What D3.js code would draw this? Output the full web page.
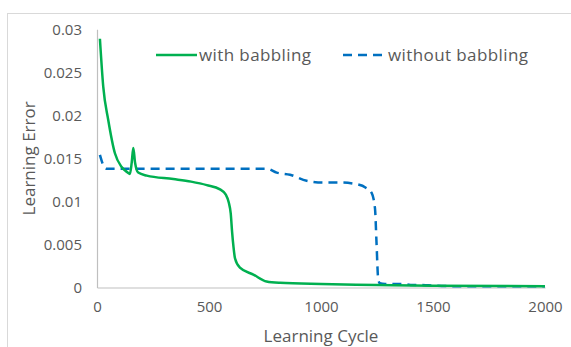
<!DOCTYPE html>
<html lang="en">
<head>
  <meta charset="UTF-8">
  <title>Learning Error vs Learning Cycle</title>
  <script src="https://d3js.org/d3.v7.min.js"></script>
  <style>
    body { margin: 0; background: #fff; }
    svg { display: block; }
    text { font-family: "Open Sans", "Liberation Sans", sans-serif; fill: #595959; }
  </style>
</head>
<body>
  <svg></svg>

  <script>
    // with babbling (green)
    const withCycle = [13, 28, 50, 80, 110, 135, 147, 155, 162, 170, 184, 222, 341, 420, 490, 549, 575, 588, 597, 603, 609, 616, 638, 698, 757, 817, 1000, 1250, 1500, 2000];
    const withError = [0.0289, 0.0233, 0.0195, 0.0156, 0.0140, 0.0134, 0.0132, 0.0145, 0.0162, 0.0145, 0.01335, 0.0130, 0.0126, 0.0123, 0.0119, 0.0114, 0.0108, 0.0099, 0.0086, 0.0065, 0.0048, 0.0034, 0.0023, 0.0015, 0.0007, 0.00054, 0.0004, 0.0003, 0.0002, 0.00015];

    // without babbling (blue dashed)
    const withoutCycle = [13, 25, 40, 200, 500, 760, 802, 862, 936, 1009, 1085, 1159, 1200, 1226, 1241, 1248, 1255, 1262, 1286, 1367, 1400, 1442, 1480, 1516, 1600, 2000];
    const withoutError = [0.0154, 0.0144, 0.0138, 0.0138, 0.0138, 0.0138, 0.01335, 0.0131, 0.0124, 0.0122, 0.0122, 0.0120, 0.0116, 0.0110, 0.0092, 0.0051, 0.0011, 0.0005, 0.0004, 0.0004, 0.0003, 0.0003, 0.00025, 0.0002, 0.00015, 0.00015];

    const xTicks = [0, 500, 1000, 1500, 2000];
    const yTicks = [0, 0.005, 0.01, 0.015, 0.02, 0.025, 0.03];

    const width = 571, height = 347;
    const margin = { top: 29.3, right: 26, bottom: 59.5, left: 97 };

    const svg = d3.select('svg')
      .attr('width', width)
      .attr('height', height);

    // outer chart frame
    svg.append('rect')
      .attr('x', 7.5).attr('y', 13.5)
      .attr('width', 600).attr('height', 400)
      .attr('fill', 'none')
      .attr('stroke', '#d9d9d9');

    const x = d3.scaleLinear()
      .domain([0, 2000])
      .range([margin.left, width - margin.right]);

    const y = d3.scaleLinear()
      .domain([0, 0.03])
      .range([height - margin.bottom, margin.top]);

    // axes
    const xAxis = svg.append('g')
      .attr('transform', `translate(0,${y(0)})`)
      .call(d3.axisBottom(x).tickValues(xTicks).tickSize(0).tickPadding(14).tickFormat(d3.format('d')));
    xAxis.select('.domain').attr('stroke', '#bfbfbf').attr('stroke-width', 1.2);
    xAxis.selectAll('text').style('font-size', '15px').attr('fill', '#595959');

    const yAxis = svg.append('g')
      .attr('transform', `translate(${x(0)},0)`)
      .call(d3.axisLeft(y).tickValues(yTicks).tickSize(0).tickPadding(15).tickFormat(d => d === 0 ? '0' : String(+d.toFixed(3))));
    yAxis.select('.domain').attr('stroke', '#bfbfbf').attr('stroke-width', 1.2);
    yAxis.selectAll('text').style('font-size', '15px').attr('fill', '#595959');

    // axis titles
    svg.append('text')
      .attr('x', (x(0) + x(2000)) / 2)
      .attr('y', 342)
      .attr('text-anchor', 'middle')
      .style('font-size', '17px')
      .text('Learning Cycle');

    svg.append('text')
      .attr('transform', `translate(35,${(y(0) + y(0.03)) / 2}) rotate(-90)`)
      .attr('text-anchor', 'middle')
      .style('font-size', '17px')
      .text('Learning Error');

    const line = d3.line()
      .x(d => x(d[0]))
      .y(d => y(d[1]))
      .curve(d3.curveMonotoneX);

    svg.append('path')
      .datum(d3.zip(withoutCycle, withoutError))
      .attr('d', line)
      .attr('fill', 'none')
      .attr('stroke', '#0070c0')
      .attr('stroke-width', 2.5)
      .attr('stroke-dasharray', '9,6');

    svg.append('path')
      .datum(d3.zip(withCycle, withError))
      .attr('d', line)
      .attr('fill', 'none')
      .attr('stroke', '#00b050')
      .attr('stroke-width', 2.5);

    // legend
    const legend = svg.append('g');
    legend.append('line')
      .attr('x1', 156).attr('x2', 197).attr('y1', 55).attr('y2', 55)
      .attr('stroke', '#00b050').attr('stroke-width', 2.5);
    legend.append('text')
      .attr('x', 199).attr('y', 61)
      .style('font-size', '17px')
      .style('letter-spacing', '0.4px')
      .text('with babbling');
    legend.append('line')
      .attr('x1', 343).attr('x2', 387).attr('y1', 55).attr('y2', 55)
      .attr('stroke', '#0070c0').attr('stroke-width', 2.5)
      .attr('stroke-dasharray', '9,6');
    legend.append('text')
      .attr('x', 388).attr('y', 61)
      .style('font-size', '17px')
      .style('letter-spacing', '0.4px')
      .text('without babbling');
  </script>
</body>
</html>
